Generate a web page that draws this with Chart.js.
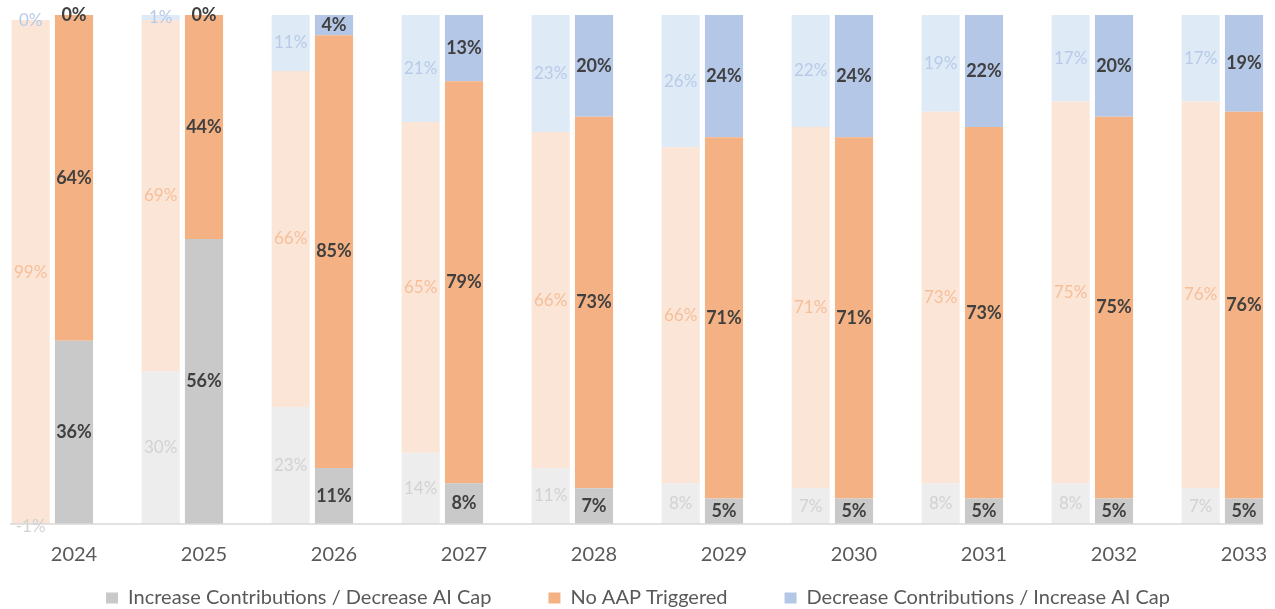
<!DOCTYPE html>
<html>
<head>
<meta charset="utf-8">
<script src="https://cdn.jsdelivr.net/npm/chart.js@4.4.1/dist/chart.umd.min.js"></script>
<style>
  html, body { margin: 0; padding: 0; background: #ffffff; overflow: hidden; width: 1275px; height: 609px; }
  #wrap { position: relative; width: 1275px; height: 609px; overflow: hidden; }
  #chart { position: absolute; left: -33px; top: 0; }
</style>
</head>
<body>
<div id="wrap"><canvas id="chart" width="1342" height="609"></canvas></div>
<script>
// Categories
const years = ['2024', '2025', '2026', '2027', '2028', '2029', '2030', '2031', '2032', '2033'];

// Prior projection (pale bars), percent of scenarios
const priorIncrease = [-1, 30, 23, 14, 11, 8, 7, 8, 8, 7];
const priorNoAAP    = [99, 69, 66, 65, 66, 66, 71, 73, 75, 76];
const priorDecrease = [0, 1, 11, 21, 23, 26, 22, 19, 17, 17];

// Current projection (solid bars), percent of scenarios
const increase = [36, 56, 11, 8, 7, 5, 5, 5, 5, 5];
const noAAP    = [64, 44, 85, 79, 73, 71, 71, 73, 75, 76];
const decrease = [0, 0, 4, 13, 20, 24, 24, 22, 20, 19];

// Series names
const seriesNames = [
  'Increase Contributions / Decrease AI Cap',
  'No AAP Triggered',
  'Decrease Contributions / Increase AI Cap'
];

const FONT = 'Lato, "Open Sans", sans-serif';
const H = 609;
const PLOT_BOTTOM = 524;     // pixel row of the zero line
const X_AXIS_H = 45;         // tick padding + label line
const LEGEND_PAD = 57;       // spacing between legend entries
const LEGEND_FONT = 20;
const LEGEND_CENTER = 598;   // vertical centre of the legend row

const solidColors = ['#C9C9C9', '#F4B183', '#B4C7E7'];
const paleColors  = ['#EDEDED', '#FBE5D6', '#DEEBF7'];
const paleLabelColors = ['#D2D2D2', '#F6BF9A', '#B8CAE8'];

function ds(label, data, stack, color, labelColor, bold) {
  return {
    label, data, stack,
    backgroundColor: color,
    borderWidth: 0,
    categoryPercentage: 1.0,
    barPercentage: 0.88,
    valueLabelColor: labelColor,
    valueLabelBold: bold
  };
}

const datasets = [
  ds(seriesNames[0], priorIncrease, 'prior', paleColors[0], paleLabelColors[0], false),
  ds(seriesNames[1], priorNoAAP, 'prior', paleColors[1], paleLabelColors[1], false),
  ds(seriesNames[2], priorDecrease, 'prior', paleColors[2], paleLabelColors[2], false),
  ds(seriesNames[0], increase, 'current', solidColors[0], '#404040', true),
  ds(seriesNames[1], noAAP, 'current', solidColors[1], '#404040', true),
  ds(seriesNames[2], decrease, 'current', solidColors[2], '#404040', true),
  // empty slot that leaves the gap to the right of each pair
  ds('', years.map(() => null), 'spacer', 'rgba(0,0,0,0)', null, false)
];

// Baseline at zero running under the bars
const baselinePlugin = {
  id: 'baseline',
  afterDatasetsDraw(chart) {
    const { ctx, chartArea, scales } = chart;
    const y = scales.y.getPixelForValue(0);
    const lastMeta = chart.getDatasetMeta(5);
    const lastEl = lastMeta.data[lastMeta.data.length - 1];
    const right = lastEl.x + lastEl.width / 2;
    ctx.save();
    ctx.strokeStyle = '#D9D9D9';
    ctx.lineWidth = 1.5;
    ctx.beginPath();
    ctx.moveTo(chartArea.left + 1, y);
    ctx.lineTo(right, y);
    ctx.stroke();
    ctx.restore();
  }
};

// Percentage labels centred in each segment; zero segments sit on top of
// the positive part of their stack
const valueLabelPlugin = {
  id: 'valueLabels',
  afterDatasetsDraw(chart) {
    const { ctx, scales } = chart;
    const all = chart.data.datasets;
    ctx.save();
    ctx.textAlign = 'center';
    ctx.textBaseline = 'middle';
    all.forEach((d, di) => {
      if (!d.valueLabelColor) return;
      const meta = chart.getDatasetMeta(di);
      ctx.fillStyle = d.valueLabelColor;
      ctx.font = (d.valueLabelBold ? 'bold 18px ' : '17px ') + FONT;
      meta.data.forEach((el, i) => {
        const v = d.data[i];
        if (v === null || v === undefined) return;
        let cy;
        if (v === 0) {
          let sum = 0;
          for (let k = 0; k < di; k++) {
            const o = all[k];
            if (o.stack === d.stack && o.data[i] > 0) sum += o.data[i];
          }
          cy = scales.y.getPixelForValue(sum);
        } else {
          cy = (el.y + el.base) / 2;
        }
        ctx.fillText(v + '%', el.x, cy);
      });
    });
    ctx.restore();
  }
};

// Place the legend row at its final height below the year labels
const legendPlacement = {
  id: 'legendPlacement',
  afterLayout(chart) {
    const lg = chart.legend;
    const target = LEGEND_CENTER - LEGEND_FONT / 2 - LEGEND_PAD;
    const d = lg.top - target;
    lg.top -= d;
    lg.bottom -= d;
  }
};

new Chart(document.getElementById('chart'), {
  type: 'bar',
  data: { labels: years, datasets },
  options: {
    responsive: false,
    animation: false,
    devicePixelRatio: 1,
    layout: {
      padding: {
        top: 15, left: 0, right: 0,
        bottom: H - PLOT_BOTTOM - X_AXIS_H - (LEGEND_FONT + LEGEND_PAD + 10)
      }
    },
    scales: {
      x: {
        stacked: true,
        grid: { display: false, drawTicks: false },
        border: { display: false },
        ticks: { color: '#595959', font: { family: FONT, size: 20 }, padding: 19, maxRotation: 0 },
        afterFit(s) { s.height = X_AXIS_H; }
      },
      y: {
        stacked: true,
        min: 0,
        max: 100,
        position: 'left',
        grid: { display: false, drawTicks: false },
        border: { display: false },
        ticks: { display: false },
        afterFit(s) { s.width = 42; }
      }
    },
    plugins: {
      legend: {
        position: 'bottom',
        labels: {
          color: '#595959',
          font: { family: FONT, size: LEGEND_FONT },
          boxWidth: 12,
          boxHeight: 11,
          padding: LEGEND_PAD,
          filter: (item) => item.datasetIndex >= 3 && item.datasetIndex <= 5
        }
      },
      tooltip: { enabled: false }
    }
  },
  plugins: [baselinePlugin, valueLabelPlugin, legendPlacement]
});
</script>
</body>
</html>
